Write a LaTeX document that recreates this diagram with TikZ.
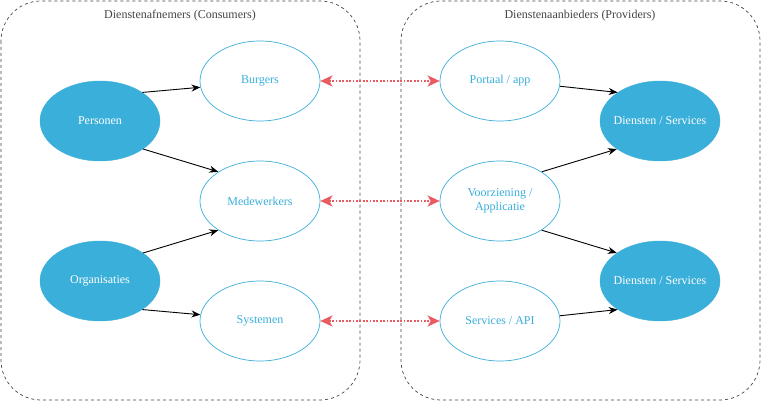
\documentclass[tikz,border=0pt]{standalone}
\usepackage{fontspec}
\setmainfont{Liberation Serif}
\usetikzlibrary{shapes.geometric,arrows.meta}
\definecolor{cblue}{HTML}{3AAFDA}
\definecolor{cred}{HTML}{EA5B62}
\definecolor{cgray}{HTML}{444444}
\newcommand{\slimtext}[1]{\makebox[60pt][c]{#1}}
\begin{document}
\begin{tikzpicture}[x=1pt,y=-1pt,
  font=\fontsize{12}{14}\selectfont,
  grp/.style={draw=cgray,dashed,rounded corners=40pt,line width=0.7pt},
  filled/.style={ellipse,fill=cblue,draw=cblue,text=white,minimum width=120pt,minimum height=80pt,inner sep=0pt,align=center},
  open/.style={ellipse,draw=cblue,text=cblue,fill=white,minimum width=120pt,minimum height=80pt,inner sep=0pt,align=center,line width=0.7pt},
  conn/.style={-{Stealth[length=9pt,width=7pt]},line width=0.9pt,black},
  link/.style={{Stealth[length=12pt,width=11pt,inset=3pt,sep=0pt]}-{Stealth[length=12pt,width=11pt,inset=3pt]},cred,line width=1.8pt,dash pattern=on 1.8pt off 1.6pt}]
\useasboundingbox (0,0) rectangle (761,401);
\draw[grp] (1,1) rectangle (360,400);
\draw[grp] (401,1) rectangle (760,400);
\node[text=cgray] (lt) at (180,16) {Dienstenafnemers (Consumers)};
\node[text=cgray] (rt) at (580,16) {Dienstenaanbieders (Providers)};
\node[filled] (per) at (100,121) {Personen};
\node[filled] (org) at (100,281) {Organisaties};
\node[open] (bur) at (260,81) {Burgers};
\node[open] (med) at (260,201) {Medewerkers};
\node[open] (sys) at (260,321) {Systemen};
\node[open] (por) at (500,81) {Portaal / app};
\node[open] (voo) at (500,201) {Voorziening /\\Applicatie};
\node[open] (ser) at (500,321) {\slimtext{Services / API}};
\node[filled] (d1) at (660,121) {\slimtext{Diensten / Services}};
\node[filled] (d2) at (660,281) {\slimtext{Diensten / Services}};
\draw[conn] (per.34) -- (bur.186);
\draw[conn] (per.-33) -- (med.145);
\draw[conn] (org.33) -- (med.215);
\draw[conn] (org.-34) -- (sys.174);
\draw[conn] (por.-5) -- (d1.146);
\draw[conn] (voo.35) -- (d1.213);
\draw[conn] (voo.-35) -- (d2.147);
\draw[conn] (ser.5) -- (d2.214);
\draw[link] (bur) -- (por);
\draw[link] (med) -- (voo);
\draw[link] (sys) -- (ser);
\end{tikzpicture}
\end{document}
